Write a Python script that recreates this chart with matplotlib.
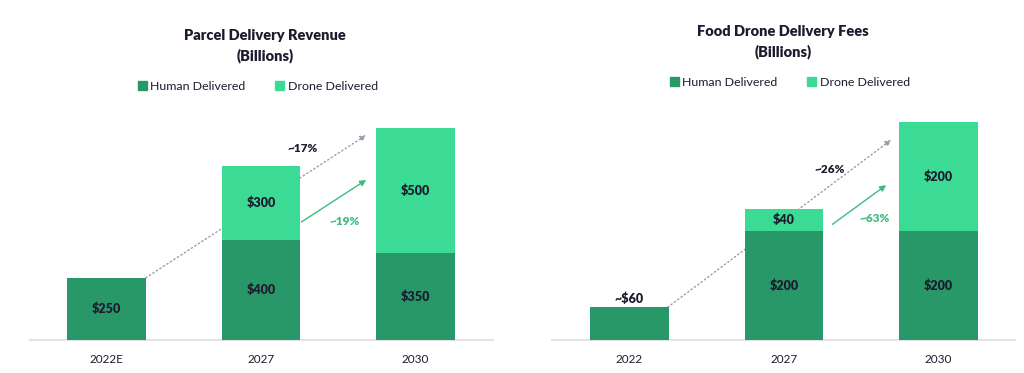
import matplotlib
matplotlib.use("Agg")
import matplotlib.pyplot as plt
from matplotlib.patches import Patch

# ---- data ----
parcel_years = ["2022E", "2027", "2030"]
parcel_human = [250, 400, 350]
parcel_drone = [0, 300, 500]
parcel_human_labels = ["$250", "$400", "$350"]
parcel_drone_labels = ["", "$300", "$500"]

food_years = ["2022", "2027", "2030"]
food_human = [60, 200, 200]
food_drone = [0, 40, 200]
food_human_labels = ["", "$200", "$200"]
food_drone_labels = ["", "$40", "$200"]

DARK = "#289869"
LIGHT = "#3bdb96"
TXT = "#1c1c2e"
GRAY = "#9a9aae"
GARROW = "#3dbb80"

plt.rcParams['font.family'] = ['Lato', 'DejaVu Sans']

W, H = 1024, 373
fig = plt.figure(figsize=(W / 100, H / 100), dpi=100)


def px_axes(x0, x1, ytop, ybot):
    return fig.add_axes([x0 / W, 1 - ybot / H, (x1 - x0) / W, (ybot - ytop) / H])


def draw(ax, years, human, drone, hl, dl, ylim, xlim):
    x = list(range(len(years)))
    ax.bar(x, human, width=0.51, color=DARK, zorder=3)
    ax.bar(x, drone, width=0.51, bottom=human, color=LIGHT, zorder=3)
    for i in x:
        if hl[i]:
            ax.text(i, human[i] / 2, hl[i], ha='center', va='center', fontsize=9,
                    fontweight='heavy', color=TXT, zorder=4)
        if dl[i]:
            ax.text(i, human[i] + drone[i] / 2, dl[i], ha='center', va='center',
                    fontsize=9, fontweight='heavy', color=TXT, zorder=4)
    ax.set_xlim(*xlim)
    ax.set_ylim(*ylim)
    ax.set_xticks(x)
    ax.set_xticklabels(years, fontsize=8.5, color=TXT)
    ax.tick_params(axis='x', length=0, pad=10)
    ax.set_yticks([])
    for s in ['top', 'left', 'right']:
        ax.spines[s].set_visible(False)
    ax.spines['bottom'].set_color('#e2e2e8')
    ax.spines['bottom'].set_linewidth(1.5)
    ax.set_facecolor('none')


def arrows(ax, g0, g1, a0, a1):
    ax.annotate("", xy=g1, xytext=g0,
                arrowprops=dict(arrowstyle='-|>', color=GRAY, lw=1, ls=(0, (1, 2)),
                                mutation_scale=9, shrinkA=0, shrinkB=0), zorder=2)
    ax.annotate("", xy=a1, xytext=a0,
                arrowprops=dict(arrowstyle='-|>', color=GARROW, lw=1,
                                mutation_scale=9, shrinkA=0, shrinkB=0), zorder=4)


# left chart
ax1 = px_axes(30, 493, 100, 340)
draw(ax1, parcel_years, parcel_human, parcel_drone, parcel_human_labels,
     parcel_drone_labels, (0, 964), (-0.494, 2.5))
arrows(ax1, (0.255, 250), (1.68, 823), (1.261, 474), (1.68, 643))
ax1.text(1.268, 771, "~17%", ha='center', va='center', fontsize=8.5,
         fontweight='heavy', color=TXT)
ax1.text(1.539, 474, "~19%", ha='center', va='center', fontsize=8.5,
         fontweight='heavy', color=GARROW)

# right chart
ax2 = px_axes(552, 1015, 100, 340)
draw(ax2, food_years, food_human, food_drone, food_human_labels,
     food_drone_labels, (0, 440), (-0.5, 2.494))
arrows(ax2, (0.248, 60), (1.694, 367), (1.313, 212), (1.661, 284))
ax2.text(1.294, 313, "~26%", ha='center', va='center', fontsize=8.5,
         fontweight='heavy', color=TXT)
ax2.text(1.584, 222, "~63%", ha='center', va='center', fontsize=8.5,
         fontweight='heavy', color=GARROW)
ax2.text(0, 76, "~$60", ha='center', va='center', fontsize=9,
         fontweight='heavy', color=TXT)

# titles
for cx, y1, y2, t in [(265, 35, 56, "Parcel Delivery Revenue"),
                      (783, 32, 52, "Food Drone Delivery Fees")]:
    fig.text(cx / W, 1 - y1 / H, t, ha='center', va='center',
             fontsize=10.5, fontweight='heavy', color=TXT)
    fig.text(cx / W, 1 - y2 / H, "(Billions)", ha='center', va='center',
             fontsize=10.5, fontweight='heavy', color=TXT)

# legends
handles = [Patch(color=DARK, label="Human Delivered"),
           Patch(color=LIGHT, label="Drone Delivered")]
for cx, cy in [(258, 86), (790, 82)]:
    fig.legend(handles=handles, loc='center', bbox_to_anchor=(cx / W, 1 - cy / H),
               ncol=2, frameon=False, fontsize=8.9, handlelength=0.7,
               handleheight=0.7, handletextpad=0.3, columnspacing=2.4,
               labelcolor=TXT)

fig.savefig("out.png", dpi=100)
